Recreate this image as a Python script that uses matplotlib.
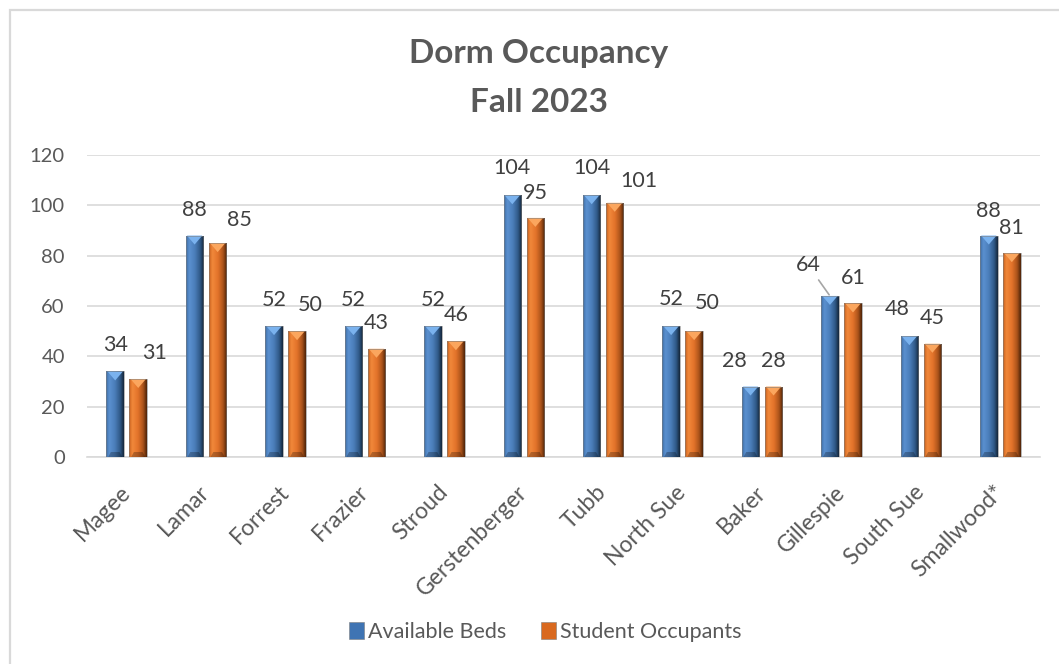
import numpy as np
import matplotlib
matplotlib.use("Agg")
import matplotlib.pyplot as plt
from matplotlib.colors import LinearSegmentedColormap
from matplotlib.patches import Polygon, Rectangle

plt.rcParams['font.family'] = ['Lato', 'DejaVu Sans']

dorms = ['Magee', 'Lamar', 'Forrest', 'Frazier', 'Stroud', 'Gerstenberger',
         'Tubb', 'North Sue', 'Baker', 'Gillespie', 'South Sue', 'Smallwood*']
beds = [34, 88, 52, 52, 52, 104, 104, 52, 28, 64, 48, 88]
occupants = [31, 85, 50, 43, 46, 95, 101, 50, 28, 61, 45, 81]

# label nudges in pixels (dx, dy above bar top), as placed in the original
beds_nudge = [(0, 26), (0, 26), (0, 26), (0, 26), (0, 26), (0, 27),
              (0, 27), (0, 27), (-16, 26), (-22, 31), (-12, 27), (0, 25)]
occ_nudge = [(16, 26), (22, 23), (13, 26), (0, 26), (0, 26), (0, 25),
             (24, 22), (13, 28), (0, 26), (0, 25), (0, 26), (0, 25)]

blue_grad = ['#3d6ba3', '#5b91d0', '#4a7db9', '#2f5886', '#142538']
orange_grad = ['#c55f1c', '#f2893b', '#e3732a', '#a8521a', '#4b2208']
blue_tip, orange_tip = '#7ab2ee', '#fba65e'

fig = plt.figure(figsize=(10.59, 6.64), dpi=100)
ax = fig.add_axes([87/1059, 207/664, 953/1059, 302/664])

x = np.arange(len(dorms))
w = 0.22
off = 0.145
b1 = ax.bar(x - off, beds, w, color='#4a7db9', edgecolor='#7f7f7f', lw=0.4,
            label='Available Beds', zorder=3)
b2 = ax.bar(x + off, occupants, w, color='#e3732a', edgecolor='#7f7f7f', lw=0.4,
            label='Student Occupants', zorder=3)

ax.set_xlim(-0.5, len(dorms) - 0.5)
ax.set_ylim(0, 120)
ax.set_yticks(range(0, 121, 20))

# bevel look: horizontal gradient clipped to each bar + a light tip on top
px_per_unit = 302 / 120
for bars, grad, tip in [(b1, blue_grad, blue_tip), (b2, orange_grad, orange_tip)]:
    cmap = LinearSegmentedColormap.from_list('g', list(zip([0, 0.18, 0.5, 0.8, 1.0], grad)))
    for p in bars:
        x0, y0 = p.get_x(), p.get_y()
        bw, bh = p.get_width(), p.get_height()
        im = ax.imshow(np.linspace(0, 1, 64).reshape(1, -1), cmap=cmap, aspect='auto',
                       extent=[x0, x0 + bw, y0, y0 + bh], zorder=3.5, interpolation='bicubic')
        im.set_clip_path(p)
        th = 9 / px_per_unit
        ax.add_patch(Polygon([[x0 + 0.06 * bw, bh], [x0 + 0.94 * bw, bh],
                              [x0 + bw / 2, bh - th]], closed=True,
                             facecolor=tip, edgecolor='none', zorder=4))
        ax.add_patch(Polygon([[x0 + 0.1 * bw, 0], [x0 + 0.9 * bw, 0],
                              [x0 + 0.75 * bw, 5 / px_per_unit], [x0 + 0.25 * bw, 5 / px_per_unit]],
                             closed=True, facecolor='black', alpha=0.25,
                             edgecolor='none', zorder=4))
        p.set_zorder(4.5)
        p.set_facecolor('none')

# data labels
for bars, vals, nudges in [(b1, beds, beds_nudge), (b2, occupants, occ_nudge)]:
    for p, v, (dx, dy) in zip(bars, vals, nudges):
        xc = p.get_x() + p.get_width() / 2
        kw = {}
        if dx <= -20:
            kw['arrowprops'] = dict(arrowstyle='-', color='#a6a6a6', lw=1.2,
                                    shrinkA=2, shrinkB=1)
        ax.annotate(str(v), xy=(xc, v), xytext=(dx * 0.72, dy * 0.72),
                    textcoords='offset points', ha='center', va='center',
                    fontsize=15.5, color='#404040', zorder=6, **kw)

ax.grid(axis='y', color='#d9d9d9', lw=1.2, zorder=0)
ax.set_axisbelow(True)
for s in ['top', 'right', 'left']:
    ax.spines[s].set_visible(False)
ax.spines['bottom'].set_color('#d9d9d9')
ax.spines['bottom'].set_linewidth(1.2)
ax.tick_params(axis='both', length=0, labelsize=14.5, labelcolor='#595959')
ax.tick_params(axis='y', pad=16)
ax.set_xticks(x)
ax.set_xticklabels(dorms, rotation=45, ha='right', va='center',
                   rotation_mode='anchor', fontsize=16.5)
ax.tick_params(axis='x', pad=23)

fig.text(539/1059, 1 - 54/664, 'Dorm Occupancy', ha='center', va='center',
         fontsize=24, fontweight='bold', color='#595959')
fig.text(539/1059, 1 - 103/664, 'Fall 2023', ha='center', va='center',
         fontsize=24, fontweight='bold', color='#595959')

leg = fig.legend(handles=[b1, b2], loc='center', bbox_to_anchor=(545/1059, 1 - 632/664),
                 ncol=2, frameon=False, fontsize=15.5, handlelength=0.7,
                 handleheight=0.8, handletextpad=0.2, columnspacing=1.6)
for h, c in zip(leg.legend_handles, ['#3f74b3', '#d9691f']):
    h.set_facecolor(c)
for t in leg.get_texts():
    t.set_color('#595959')

fig.patches.append(Rectangle((10/1059, -0.1), 1.2, 1 - 10/664 + 0.1,
                             transform=fig.transFigure, fill=False,
                             edgecolor='#d9d9d9', lw=1.6))

fig.savefig('out.png', dpi=100)
